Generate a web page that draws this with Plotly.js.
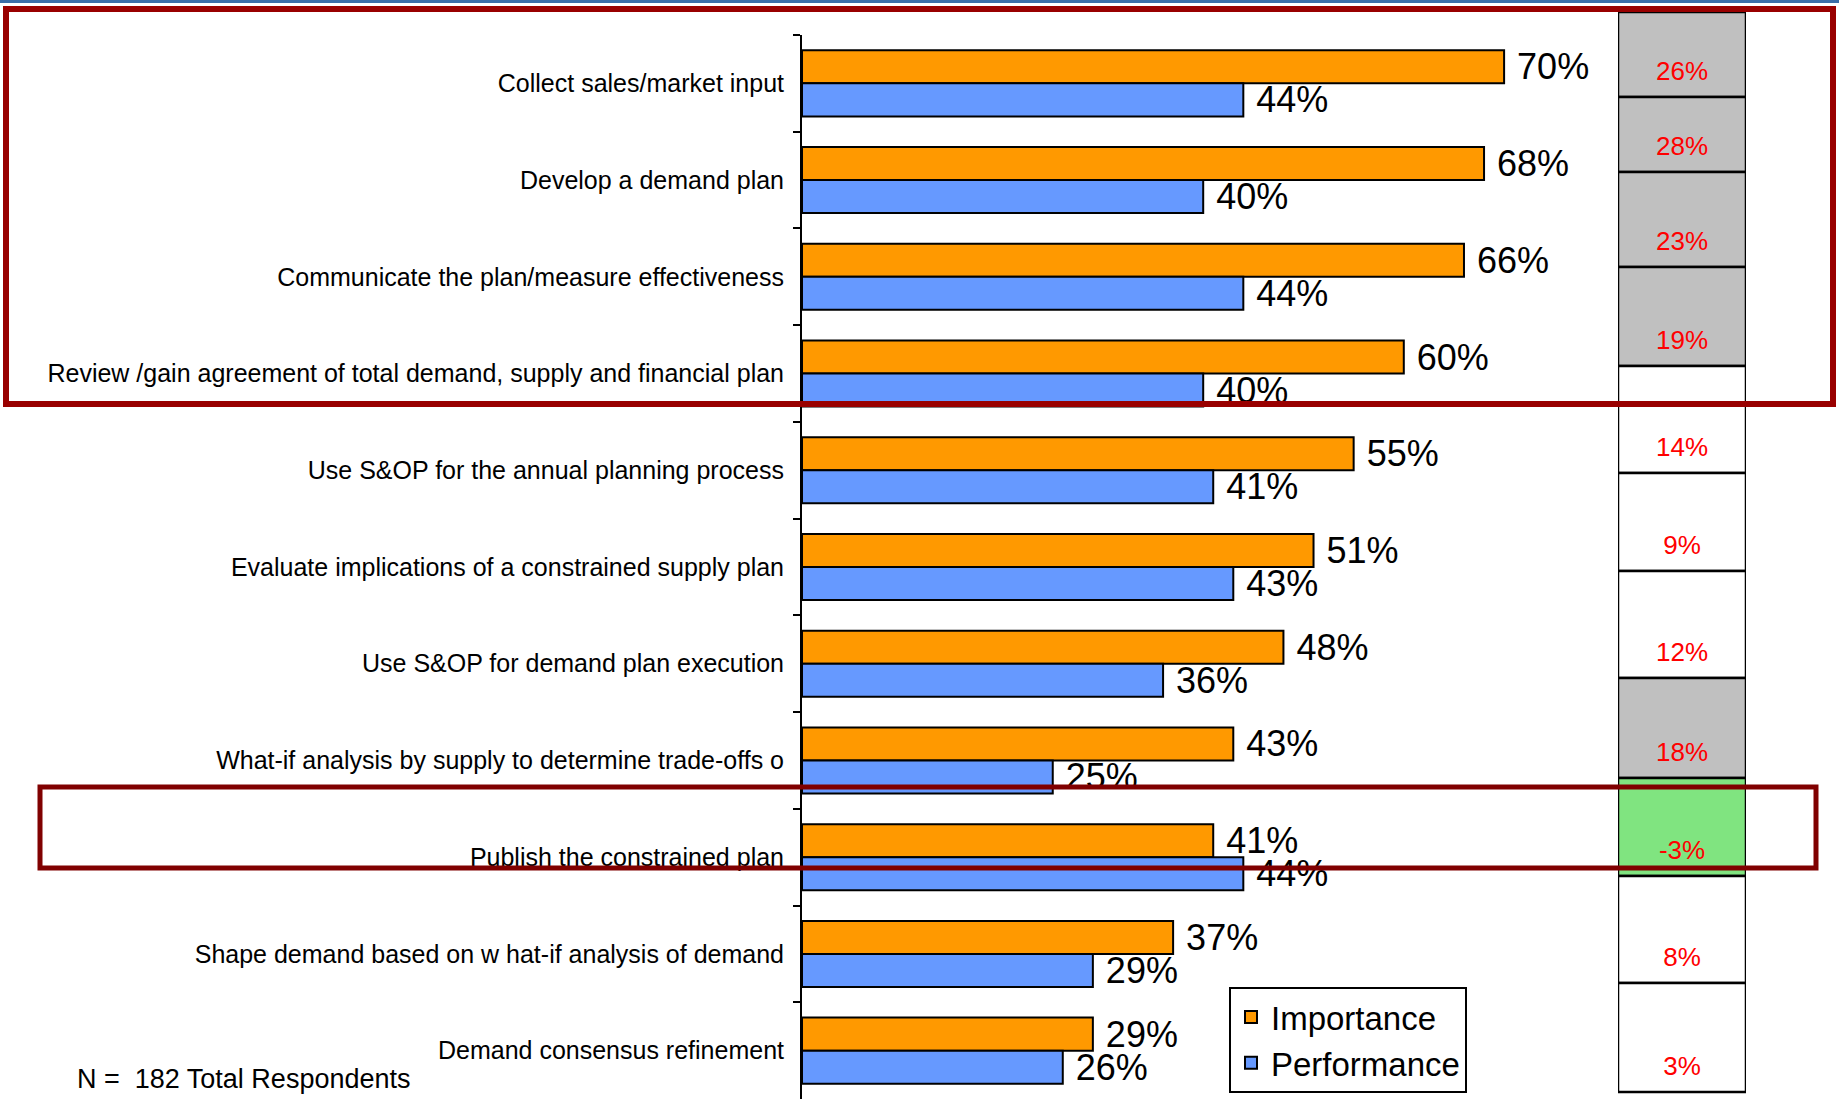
<!DOCTYPE html>
<html>
<head>
<meta charset="utf-8">
<script src="https://cdn.plot.ly/plotly-3.0.1.min.js"></script>
<style>
  html, body { margin: 0; padding: 0; background: #ffffff; }
  #chart { width: 1839px; height: 1099px; }
</style>
</head>
<body>
<div id="chart"></div>
<script>
// ---- data ----
const categories = [
  "Collect sales/market input",
  "Develop a demand plan",
  "Communicate the plan/measure effectiveness",
  "Review /gain agreement of total demand, supply and financial plan",
  "Use S&OP for the annual planning process",
  "Evaluate implications of a constrained supply plan",
  "Use S&OP for demand plan execution",
  "What-if analysis by supply to determine trade-offs o",
  "Publish the constrained plan",
  "Shape demand based on w hat-if analysis of demand",
  "Demand consensus refinement"
];
const importance  = [70, 68, 66, 60, 55, 51, 48, 43, 41, 37, 29];
const performance = [44, 40, 44, 40, 41, 43, 36, 25, 44, 29, 26];
const gap         = [26, 28, 23, 19, 14, 9, 12, 18, -3, 8, 3];
const gapFlag     = ["high", "high", "high", "high", "", "", "", "high", "reverse", "", ""];
const seriesNames = ["Importance", "Performance"];
const noteText = "N =  182 Total Respondents";

// ---- layout constants (pixel geometry of the page) ----
const W = 1839, H = 1099;
const CELL_EDGES = [12, 97, 172, 267, 366, 473, 571, 678, 778, 876, 983, 1092];
const LABEL_OFFSET = 24;
const px = v => v / W;
const py = v => 1 - v / H;
const FONT = "Arial, 'Liberation Sans', sans-serif";
const flagColor = f => f === "high" ? "#C0C0C0" : (f === "reverse" ? "#80E480" : "#FFFFFF");

const nb = "\u00a0";
const traces = [
  {
    type: "bar", orientation: "h", name: seriesNames[0],
    y: categories, x: importance,
    marker: { color: "#FF9900", line: { color: "#000000", width: 2 } },
    text: importance.map(v => nb + v + "%"),
    textposition: "outside", constraintext: "none", cliponaxis: false,
    textfont: { family: FONT, size: 36, color: "#000000" },
    hoverinfo: "skip"
  },
  {
    type: "bar", orientation: "h", name: seriesNames[1],
    y: categories, x: performance,
    marker: { color: "#6699FF", line: { color: "#000000", width: 2 } },
    text: performance.map(v => nb + v + "%"),
    textposition: "outside", constraintext: "none", cliponaxis: false,
    textfont: { family: FONT, size: 36, color: "#000000" },
    hoverinfo: "skip"
  },
  {
    type: "bar", orientation: "v", showlegend: false,
    xaxis: "x2", yaxis: "y2",
    x: gap.map(() => 0),
    base: CELL_EDGES.slice(0, -1),
    y: gap.map((g, i) => CELL_EDGES[i + 1] - CELL_EDGES[i]),
    width: gap.map(() => 1),
    marker: { color: gapFlag.map(flagColor), line: { color: "#000000", width: 2.5 } },
    hoverinfo: "skip"
  },
  {
    type: "scatter", mode: "text", showlegend: false,
    xaxis: "x2", yaxis: "y2",
    x: gap.map(() => 0),
    y: gap.map((g, i) => CELL_EDGES[i + 1] - LABEL_OFFSET),
    text: gap.map(g => g + "%"),
    textposition: "middle center",
    textfont: { family: FONT, size: 26, color: "#FF0000" },
    cliponaxis: false,
    hoverinfo: "skip"
  }
];

const layout = {
  width: W, height: H,
  margin: { l: 0, r: 0, t: 0, b: 0 },
  paper_bgcolor: "#FFFFFF", plot_bgcolor: "rgba(0,0,0,0)",
  font: { family: FONT, color: "#000000" },
  barmode: "group", bargap: 0.317, bargroupgap: 0,
  showlegend: true,
  xaxis: {
    domain: [px(802), px(1805)], range: [0, 100],
    visible: false, fixedrange: true
  },
  yaxis: {
    domain: [0, py(35)], type: "category", autorange: "reversed",
    showline: true, linecolor: "#000000", linewidth: 2,
    ticks: "outside", ticklen: 7, tickwidth: 2, tickcolor: "#000000",
    tickson: "boundaries", showgrid: false, zeroline: false,
    ticklabelstandoff: 11,
    tickfont: { family: FONT, size: 25, color: "#000000" },
    fixedrange: true
  },
  xaxis2: {
    domain: [px(1618), px(1746)], range: [-0.5, 0.5], anchor: "y2",
    visible: false, fixedrange: true
  },
  yaxis2: {
    domain: [0, 1], range: [H, 0], anchor: "x2",
    visible: false, fixedrange: true
  },
  legend: {
    x: px(1229), y: py(987), xanchor: "left", yanchor: "top",
    bgcolor: "#FFFFFF", bordercolor: "#000000", borderwidth: 2,
    font: { family: FONT, size: 33, color: "#000000" },
    traceorder: "normal", tracegroupgap: 0
  },
  annotations: [
    {
      xref: "paper", yref: "paper", x: px(75), y: py(1079),
      xanchor: "left", yanchor: "middle", showarrow: false,
      text: noteText, font: { family: FONT, size: 27, color: "#000000" }
    }
  ],
  shapes: [
    {
      type: "line", xref: "paper", yref: "paper",
      x0: 0, x1: 1, y0: py(1.5), y1: py(1.5),
      line: { color: "#3A6EA8", width: 3 }, layer: "above"
    },
    {
      type: "rect", xref: "paper", yref: "paper",
      x0: px(6), x1: px(1833), y0: py(9), y1: py(404),
      line: { color: "#990000", width: 6 }, fillcolor: "rgba(0,0,0,0)", layer: "above"
    },
    {
      type: "rect", xref: "paper", yref: "paper",
      x0: px(40), x1: px(1816), y0: py(787), y1: py(868),
      line: { color: "#800000", width: 5 }, fillcolor: "rgba(0,0,0,0)", layer: "above"
    }
  ]
};

Plotly.newPlot("chart", traces, layout, { displayModeBar: false, staticPlot: true });
</script>
</body>
</html>
